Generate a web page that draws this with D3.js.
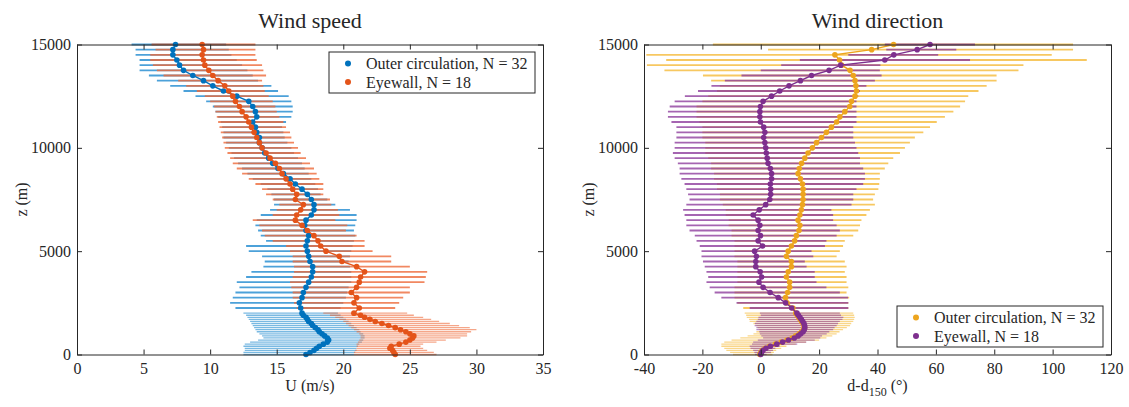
<!DOCTYPE html>
<html>
<head>
<meta charset="utf-8">
<script src="https://cdn.jsdelivr.net/npm/d3@7"></script>
<style>
  body { margin: 0; background: #ffffff; }
  svg text { font-family: "Liberation Serif", "Times New Roman", serif !important; fill: #262626; }
</style>
</head>
<body>
<svg id="chart" width="1129" height="407"></svg>
<script>
// Heights (m): 100 m steps near the surface, 250 m above
const heights = [0, 100, 200, 300, 400, 500, 600, 700, 800, 900, 1000, 1100, 1200, 1300, 1400, 1500, 1600, 1700, 1800, 1900, 2000,
    2250, 2500, 2750, 3000, 3250, 3500, 3750, 4000, 4250, 4500, 4750, 5000, 5250, 5500, 5750, 6000, 6250, 6500, 6750, 7000,
    7250, 7500, 7750, 8000, 8250, 8500, 8750, 9000, 9250, 9500, 9750, 10000, 10250, 10500, 10750, 11000, 11250, 11500, 11750, 12000,
    12250, 12500, 12750, 13000, 13250, 13500, 13750, 14000, 14250, 14500, 14750, 15000];

// Wind speed, outer circulation (m/s)
const speedOuterMean = [17.2, 17.5, 17.8, 18.0, 18.2, 18.5, 18.8, 18.9, 18.8, 18.6, 18.4, 18.2, 18.1, 17.9, 17.7, 17.6, 17.4, 17.3, 17.2, 17.0, 16.9,
    16.8, 16.7, 16.9, 17.0, 17.2, 17.4, 17.6, 17.7, 17.7, 17.5, 17.4, 17.3, 17.2, 17.3, 17.4, 17.2, 17.1, 17.2, 17.6, 17.8,
    17.8, 17.6, 17.3, 16.9, 16.4, 16.0, 15.5, 15.1, 14.7, 14.4, 14.1, 13.9, 13.7, 13.7, 13.5, 13.4, 13.2, 13.5, 13.4, 13.2,
    12.9, 12.0, 11.0, 10.2, 9.5, 8.7, 8.0, 7.7, 7.5, 7.2, 7.2, 7.4];
const speedOuterLow = [12.5, 12.5, 12.6, 12.6, 12.5, 12.6, 13.0, 13.6, 14.0, 13.9, 13.7, 13.5, 13.4, 13.3, 13.2, 13.1, 13.0, 12.9, 12.8, 12.7, 12.5,
    11.9, 11.5, 11.7, 11.9, 12.2, 12.0, 12.7, 13.1, 14.0, 14.1, 13.9, 12.9, 12.7, 14.2, 13.8, 13.6, 13.4, 13.5, 13.8, 14.5,
    14.8, 14.8, 14.6, 14.3, 13.8, 13.2, 12.8, 12.4, 12.1, 11.8, 11.6, 11.4, 11.2, 11.0, 11.0, 10.9, 10.8, 10.6, 10.4, 10.2,
    9.7, 8.9, 8.0, 7.0, 6.0, 5.4, 4.7, 4.7, 4.7, 4.4, 4.4, 4.1];
const speedOuterHigh = [20.8, 20.9, 21.0, 21.0, 21.1, 21.2, 21.4, 21.5, 21.6, 21.6, 21.5, 21.3, 21.2, 21.0, 20.8, 20.6, 20.4, 20.2, 20.0, 19.8, 19.6,
    19.8, 20.0, 20.2, 20.3, 20.4, 20.6, 20.6, 20.6, 20.5, 20.4, 20.5, 20.6, 20.7, 20.8, 20.9, 20.8, 20.9, 21.0, 21.0, 20.5,
    19.4, 18.8, 18.3, 18.1, 17.9, 17.6, 17.4, 17.1, 16.9, 16.6, 16.3, 16.1, 15.8, 15.6, 15.5, 15.4, 15.7, 16.1, 16.2, 16.2,
    16.1, 15.9, 15.1, 14.6, 13.6, 13.2, 12.8, 12.4, 12.0, 11.6, 11.4, 11.2];

// Wind speed, eyewall (m/s)
const speedEyeMean = [23.9, 23.8, 23.7, 23.5, 23.6, 24.2, 24.7, 25.0, 25.2, 25.3, 25.0, 24.7, 24.3, 23.9, 23.4, 22.9, 22.4, 22.0, 21.6, 21.3, 20.8,
    21.2, 20.8, 21.0, 20.6, 21.0, 21.2, 21.3, 21.6, 21.0, 19.9, 19.7, 18.7, 18.3, 18.1, 17.8, 17.3, 16.9, 16.4, 16.5, 16.8,
    17.0, 16.4, 16.5, 16.2, 16.0, 15.7, 15.4, 15.2, 14.9, 14.5, 14.2, 13.9, 13.7, 13.5, 13.3, 13.1, 12.9, 12.7, 12.4, 12.2,
    11.9, 11.7, 11.4, 11.1, 10.6, 10.2, 9.9, 9.6, 9.5, 9.4, 9.5, 9.4];
const speedEyeLow = [20.8, 20.8, 20.9, 21.0, 21.0, 21.0, 21.1, 21.2, 21.3, 21.3, 21.2, 21.0, 20.8, 20.6, 20.4, 20.2, 20.0, 19.7, 19.4, 19.0, 18.5,
    16.5, 16.3, 16.2, 16.2, 16.1, 16.0, 16.2, 16.3, 16.3, 16.2, 16.2, 16.0, 15.7, 14.7, 14.1, 13.9, 13.7, 13.2, 14.7, 15.0,
    15.2, 14.7, 14.2, 13.9, 13.4, 12.9, 12.4, 12.0, 11.7, 11.5, 11.3, 11.1, 11.0, 10.9, 10.8, 10.7, 10.6, 10.5, 10.4, 10.3,
    10.0, 9.6, 9.0, 8.2, 7.6, 6.5, 6.0, 5.7, 5.5, 5.5, 5.9, 5.6];
const speedEyeHigh = [27.0, 26.8, 26.3, 26.0, 25.8, 26.0, 27.0, 27.7, 28.8, 29.3, 29.3, 29.6, 30.0, 29.5, 28.7, 28.0, 27.2, 26.6, 26.0, 25.3, 24.8,
    23.9, 24.2, 24.5, 25.0, 25.0, 26.1, 26.2, 26.3, 25.0, 23.6, 23.6, 22.2, 21.6, 21.6, 21.0, 20.2, 20.3, 19.4, 19.7, 19.6,
    19.1, 19.0, 18.5, 18.5, 18.5, 18.2, 18.0, 17.8, 17.5, 17.2, 16.8, 16.6, 16.3, 16.1, 16.0, 15.7, 15.5, 15.2, 15.0, 14.9,
    14.7, 14.4, 14.1, 14.0, 13.9, 14.2, 14.0, 13.9, 13.5, 13.4, 13.4, 13.4];

// Wind direction, outer circulation (deg)
const dirOuterMean = [-0.3, 0.0, 0.5, 1.5, 3.0, 5.0, 7.0, 9.0, 10.8, 12.0, 13.2, 14.0, 14.6, 15.0, 14.8, 14.5, 14.0, 13.5, 13.0, 12.5, 12.0,
    11.0, 9.0, 8.5, 9.2, 9.9, 9.9, 8.8, 9.4, 10.5, 10.5, 8.8, 9.4, 10.5, 11.6, 12.2, 13.1, 13.4, 12.8, 13.4, 13.9,
    14.3, 14.5, 14.5, 14.5, 14.3, 13.6, 12.8, 13.2, 14.0, 15.1, 16.2, 17.7, 19.1, 20.8, 22.5, 24.2, 26.0, 27.1, 28.8, 30.5,
    31.1, 32.3, 32.8, 32.6, 32.3, 31.7, 30.6, 27.7, 27.0, 25.4, 38.0, 45.5];
const dirOuterLow = [-9.5, -10.5, -11.8, -12.5, -13.5, -13.5, -12.5, -10.0, -7.0, -4.5, -2.5, -1.5, -0.5, -1.0, -1.5, -2.5, -3.8, -4.0, -4.8, -5.0, -5.5,
    -6, -8, -9, -9, -9, -8, -8, -8, -8, -8, -9, -9, -9, -9, -10, -10, -11, -11, -12, -12,
    -13, -14, -14, -15, -15, -16, -16, -17, -17, -18, -19, -19, -19, -20, -20, -20, -21, -22, -22, -22,
    -20, -18, -15, -14, -17.0, -19.8, -33.0, -39.0, -32.4, -39.2, 2.5, -16.4];
const dirOuterHigh = [4.0, 4.5, 5.3, 7.0, 8.8, 12.0, 15.5, 20.0, 22.5, 24.5, 26.0, 27.0, 28.2, 29.5, 30.6, 31.0, 31.7, 32.0, 32.2, 32.0, 31.7,
    30.0, 30.0, 30.3, 29.4, 30.0, 29.4, 29.4, 28.8, 29.4, 28.8, 26.0, 27.1, 28.2, 28.8, 31.7, 33.4, 34.0, 34.5, 36.2, 37.4,
    39.1, 38.5, 39.1, 40.3, 40.6, 40.8, 40.8, 42.5, 43.7, 45.4, 47.7, 49.4, 51.1, 52.8, 55.7, 58.0, 60.3, 63.1, 66.0, 68.3,
    70.0, 71.1, 74.6, 77.4, 80.8, 80.8, 88.3, 90.0, 111.7, 99.7, 107.0, 107.0];

// Wind direction, eyewall (deg)
const dirEyeMean = [0.0, 0.3, 0.8, 1.8, 3.3, 5.5, 7.5, 9.5, 11.5, 12.8, 13.7, 14.5, 14.9, 15.1, 15.0, 14.8, 14.4, 13.9, 13.4, 12.9, 12.4,
    10.6, 8.5, 6.0, 3.2, 0.8, -0.6, 0.3, -0.2, -1.7, -1.7, -1.5, -2.1, 0.6, -0.9, -0.1, -0.9, -0.3, -0.9, -2.6, -0.5,
    1.7, 3.1, 3.4, 3.4, 3.3, 3.7, 3.7, 3.3, 2.5, 2.2, 1.9, 1.7, 1.4, 1.0, 1.4, 1.0, -0.1, -0.3, -0.3, -0.1,
    0.8, 3.7, 6.5, 9.7, 13.6, 17.4, 23.4, 27.4, 42.5, 45.6, 53.6, 58.0];
const dirEyeLow = [-2.0, -2.2, -2.6, -3.5, -3.8, -3.0, -2.6, -1.0, 0.8, 0.2, -0.3, -0.5, -1.5, -1.5, -2.1, -2.0, -1.5, -1.0, -0.8, 0.0, -0.3,
    -3.8, -8.3, -13.5, -15.8, -17.5, -18.6, -18.0, -18.6, -19.2, -19.8, -20.3, -20.3, -20.9, -22.0, -22.6, -24.4, -25.5, -25.5, -26.1, -26.6,
    -25.5, -24.4, -24.9, -25.5, -26.1, -27.2, -27.8, -27.8, -28.4, -29.5, -30.1, -29.5, -29.5, -28.9, -28.9, -28.9, -30.6, -31.8, -31.8, -31.2,
    -29.5, -26.0, -21.5, -16.9, -12.3, -6.6, 0.0, 7.0, 13.4, 30.0, 43.0, 42.5];
const dirEyeHigh = [2.0, 3.5, 4.2, 5.0, 6.5, 12.5, 15.6, 18.5, 20.4, 21.0, 22.6, 23.5, 24.8, 25.3, 26.0, 26.5, 27.1, 28.0, 28.3, 27.5, 27.1,
    30.0, 30.0, 29.9, 27.1, 22.5, 19.1, 18.5, 18.5, 15.7, 15.1, 18.0, 17.4, 22.0, 22.5, 26.0, 27.1, 26.0, 24.8, 24.8, 24.2,
    31.1, 31.7, 31.7, 32.8, 35.1, 35.7, 35.7, 35.1, 34.0, 34.0, 33.4, 32.8, 32.3, 31.7, 31.7, 31.7, 32.8, 32.8, 32.8, 32.8,
    32.8, 33.4, 34.0, 36.2, 39.1, 41.4, 40.8, 41.0, 71.7, 60.8, 67.0, 73.4];

const speedTicks = [0, 5, 10, 15, 20, 25, 30, 35];
const dirTicks = [-40, -20, 0, 20, 40, 60, 80, 100, 120];
const heightTicks = [0, 5000, 10000, 15000];

const axisColor = '#262626';
const serif = '"Liberation Serif", "Times New Roman", serif';
const svg = d3.select('#chart');

// Build one profile panel
function drawPanel(cfg) {
    const x = d3.scaleLinear().domain(cfg.xDomain).range([cfg.left, cfg.right]);
    const y = d3.scaleLinear().domain([0, 15000]).range([cfg.bottom, cfg.top]);
    const g = svg.append('g');

    // Error bars: outer first, eyewall on top
    cfg.series.forEach(s => {
        g.append('g').selectAll('line')
            .data(heights)
            .enter()
            .append('line')
            .attr('x1', (d, i) => x(s.low[i]))
            .attr('x2', (d, i) => x(s.high[i]))
            .attr('y1', d => y(d))
            .attr('y2', d => y(d))
            .attr('stroke', s.barColor)
            .attr('stroke-width', d => d <= 2000 ? 1.3 : 1.9)
            .attr('stroke-opacity', d => d <= 2000 ? 0.6 : 0.8);
    });

    // Mean profiles with markers
    const line = d3.line()
        .x(d => x(d[0]))
        .y(d => y(d[1]));

    cfg.series.forEach(s => {
        const pts = heights.map((h, i) => [s.mean[i], h]);
        g.append('path')
            .datum(pts)
            .attr('d', line)
            .attr('fill', 'none')
            .attr('stroke', s.color)
            .attr('stroke-width', 1.4);

        g.append('g').selectAll('circle')
            .data(pts)
            .enter()
            .append('circle')
            .attr('cx', d => x(d[0]))
            .attr('cy', d => y(d[1]))
            .attr('r', 2.8)
            .attr('fill', s.color);
    });

    // Axes, ticks pointing inward, box on
    const styleAxis = sel => {
        sel.attr('font-family', serif);
        sel.selectAll('path, line').attr('stroke', axisColor);
        sel.selectAll('text')
            .style('font-size', '16px')
            .style('font-family', serif)
            .attr('fill', axisColor);
    };

    g.append('g')
        .attr('transform', `translate(0,${cfg.bottom})`)
        .call(d3.axisBottom(x).tickValues(cfg.xTicks).tickSize(-5).tickSizeOuter(0).tickPadding(8).tickFormat(d => String(d)))
        .call(styleAxis);

    g.append('g')
        .attr('transform', `translate(0,${cfg.top})`)
        .call(d3.axisTop(x).tickValues(cfg.xTicks).tickSize(-5).tickSizeOuter(0).tickFormat(''))
        .call(styleAxis);

    g.append('g')
        .attr('transform', `translate(${cfg.left},0)`)
        .call(d3.axisLeft(y).tickValues(heightTicks).tickSize(-5).tickSizeOuter(0).tickPadding(6).tickFormat(d => String(d)))
        .call(styleAxis);

    g.append('g')
        .attr('transform', `translate(${cfg.right},0)`)
        .call(d3.axisRight(y).tickValues(heightTicks).tickSize(-5).tickSizeOuter(0).tickFormat(''))
        .call(styleAxis);

    g.selectAll('.domain').attr('stroke-width', 1);

    // Title
    g.append('text')
        .attr('x', (cfg.left + cfg.right) / 2)
        .attr('y', 28)
        .attr('text-anchor', 'middle')
        .style('font-size', '22px')
        .text(cfg.title);

    // y label
    g.append('text')
        .attr('transform', `translate(${cfg.yLabelX},${(cfg.top + cfg.bottom) / 2}) rotate(-90)`)
        .attr('text-anchor', 'middle')
        .style('font-size', '16px')
        .text('z (m)');

    // x label
    const xl = g.append('text')
        .attr('x', (cfg.left + cfg.right) / 2)
        .attr('y', 391)
        .attr('text-anchor', 'middle')
        .style('font-size', '16px');
    cfg.xLabel(xl);

    // Legend
    const lg = g.append('g').attr('transform', `translate(${cfg.legend.x},${cfg.legend.y})`);
    lg.append('rect')
        .attr('width', 206)
        .attr('height', 41)
        .attr('fill', '#ffffff')
        .attr('stroke', axisColor)
        .attr('stroke-width', 1);
    cfg.series.forEach((s, i) => {
        lg.append('circle')
            .attr('cx', 19)
            .attr('cy', 11.5 + i * 18.5)
            .attr('r', 3)
            .attr('fill', s.color);
        lg.append('text')
            .attr('x', 37)
            .attr('y', 11.5 + i * 18.5)
            .attr('dy', '0.35em')
            .style('font-size', '16px')
            .text(s.name);
    });
}

drawPanel({
    left: 77, right: 543, top: 44.5, bottom: 354.5,
    xDomain: [0, 35], xTicks: speedTicks,
    title: 'Wind speed', yLabelX: 27,
    xLabel: t => t.text('U (m/s)'),
    legend: { x: 329, y: 52 },
    series: [
        { name: 'Outer circulation, N = 32', color: '#0072BD', barColor: '#1F8ACF', mean: speedOuterMean, low: speedOuterLow, high: speedOuterHigh },
        { name: 'Eyewall, N = 18', color: '#E4541A', barColor: '#EE6A3A', mean: speedEyeMean, low: speedEyeLow, high: speedEyeHigh }
    ]
});

drawPanel({
    left: 644, right: 1111, top: 44.5, bottom: 354.5,
    xDomain: [-40, 120], xTicks: dirTicks,
    title: 'Wind direction', yLabelX: 594,
    xLabel: t => {
        t.append('tspan').text('d-d');
        t.append('tspan').attr('dy', 5).style('font-size', '12px').text('150');
        t.append('tspan').attr('dy', -5).text(' (°)');
    },
    legend: { x: 897, y: 306 },
    series: [
        { name: 'Outer circulation, N = 32', color: '#EDA51E', barColor: '#F5BA3A', mean: dirOuterMean, low: dirOuterLow, high: dirOuterHigh },
        { name: 'Eyewall, N = 18', color: '#7E2F8E', barColor: '#8E3F9E', mean: dirEyeMean, low: dirEyeLow, high: dirEyeHigh }
    ]
});
</script>
</body>
</html>
